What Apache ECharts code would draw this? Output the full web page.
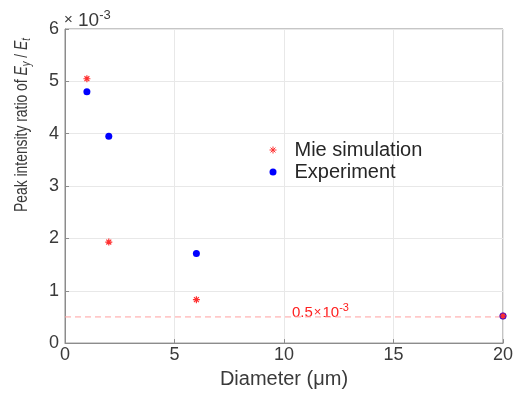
<!DOCTYPE html>
<html>
<head>
<meta charset="utf-8">
<script src="https://cdn.jsdelivr.net/npm/echarts@6/dist/echarts.min.js"></script>
<style>
  html, body { margin: 0; padding: 0; background: #fff; }
  #chart { width: 516px; height: 394px; }
</style>
</head>
<body>
<div id="chart"></div>
<script>
// values in units of 1e-3
const diameters = [1, 2, 6, 20];
const mieValues = [5.05, 1.93, 0.83, 0.52];
const expValues = [4.8, 3.95, 1.71, 0.52];
const xTicks = [0, 5, 10, 15, 20];
const yTicks = [0, 1, 2, 3, 4, 5, 6];
const thresholdValue = 0.5;

const font = 'Liberation Sans, Arial, sans-serif';
const star = 'path://M0,5L10,5M5,0L5,10M1.5,1.5L8.5,8.5M8.5,1.5L1.5,8.5';
const textColor = '#3a3a3a';

const chart = echarts.init(document.getElementById('chart'));

const mieData = diameters.map((d, i) => [d, mieValues[i]]);
const expData = diameters.map((d, i) => [d, expValues[i]]);
// dashed reference level across the whole x range
const thresholdData = [[xTicks[0], thresholdValue], [xTicks[xTicks.length - 1], thresholdValue]];

const axisCommon = {
  axisLine: { show: true, lineStyle: { color: '#8c8c8c', width: 1 } },
  axisTick: { show: true, inside: true, length: 4, lineStyle: { color: '#8c8c8c' } },
  splitLine: { show: true, lineStyle: { color: '#e8e8e8' } }
};

chart.setOption({
  animation: false,
  textStyle: { fontFamily: font },
  grid: { left: 65, right: 9, top: 29, bottom: 49, show: true, borderColor: '#8c8c8c', borderWidth: 1 },
  legend: {
    orient: 'vertical',
    left: 262,
    top: 135,
    itemWidth: 7,
    itemHeight: 7,
    itemGap: 2,
    textStyle: { fontSize: 20, color: '#262626', fontFamily: font, padding: [0, 0, 0, 13] },
    data: [
      { name: 'Mie simulation', icon: star, itemStyle: { color: 'none', borderColor: '#ff3030', borderWidth: 1, opacity: 1 } },
      { name: 'Experiment', icon: 'circle', itemStyle: { color: '#0000ff', opacity: 1 } }
    ]
  },
  xAxis: {
    type: 'value',
    min: 0,
    max: 20,
    interval: 5,
    name: 'Diameter (μm)',
    nameLocation: 'middle',
    nameGap: 25,
    nameTextStyle: { fontSize: 20, color: textColor },
    axisLabel: { fontSize: 18, color: textColor, margin: 3,
      formatter: v => xTicks.includes(v) ? String(v) : '' },
    ...axisCommon
  },
  yAxis: {
    type: 'value',
    min: 0,
    max: 6,
    interval: 1,
    axisLabel: { fontSize: 18, color: textColor, margin: 6,
      formatter: v => yTicks.includes(v) ? String(v) : '' },
    ...axisCommon
  },
  graphic: [
    {
      // y axis title
      type: 'text',
      x: 22,
      y: 125,
      rotation: Math.PI / 2,
      scaleX: 0.73,
      style: {
        text: '{n|Peak intensity ratio of }{i|E}{s|y}{n| / }{i|E}{s|t}',
        align: 'center',
        verticalAlign: 'middle',
        rich: {
          n: { fontSize: 19, fill: textColor, fontFamily: font },
          i: { fontSize: 19, fill: textColor, fontStyle: 'italic', fontFamily: font },
          s: { fontSize: 13, fill: textColor, fontStyle: 'italic', fontFamily: font, padding: [8, 0, 0, 0] }
        }
      }
    },
    {
      type: 'text',
      left: 64,
      top: 9,
      style: {
        text: '{a|×}{b| 10}{c|-3}',
        rich: {
          a: { fontSize: 15, fill: textColor, fontFamily: font, padding: [3, 0, 0, 0] },
          b: { fontSize: 19, fill: textColor, fontFamily: font, padding: [5, 0, 0, 0] },
          c: { fontSize: 13, fill: textColor, fontFamily: font, padding: [0, 0, 6, 0] }
        }
      }
    },
    {
      type: 'text',
      left: 292,
      top: 302,
      style: {
        text: '{b|0.5}{a|×}{b|10}{c|-3}',
        rich: {
          a: { fontSize: 13, fill: '#ff2020', fontFamily: font, padding: [3, 1, 0, 1] },
          b: { fontSize: 15, fill: '#ff2020', fontFamily: font, padding: [4, 0, 0, 0] },
          c: { fontSize: 11, fill: '#ff2020', fontFamily: font, padding: [0, 0, 6, 0] }
        }
      }
    }
  ],
  series: [
    {
      name: 'threshold',
      type: 'line',
      data: thresholdData,
      silent: true,
      showSymbol: false,
      symbol: 'none',
      z: 1,
      itemStyle: { color: '#ffa0a0' },
      lineStyle: { color: '#ffa0a0', type: [6, 4], width: 1 }
    },
    {
      name: 'Experiment',
      type: 'scatter',
      data: expData,
      symbol: 'circle',
      symbolSize: 7,
      itemStyle: { color: '#0000ff', opacity: 1 },
      z: 2
    },
    {
      name: 'Mie simulation',
      type: 'scatter',
      data: mieData,
      symbol: star,
      symbolSize: 7,
      itemStyle: { color: 'none', borderColor: '#ff3030', borderWidth: 1.2, opacity: 1 },
      z: 3
    }
  ]
});
</script>
</body>
</html>
